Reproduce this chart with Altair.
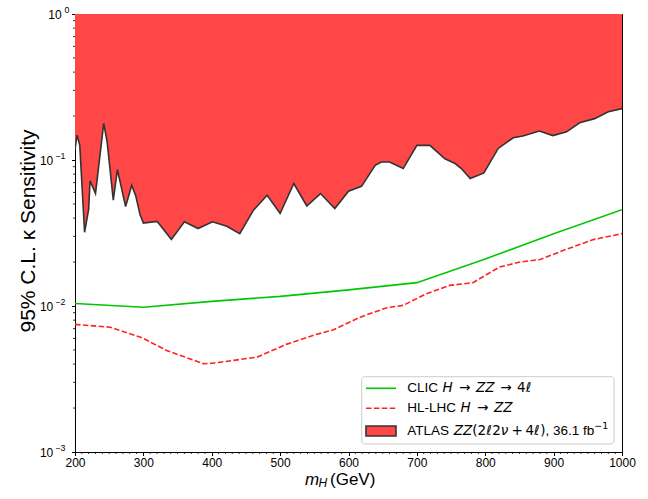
import altair as alt
import pandas as pd

# ATLAS ZZ exclusion boundary (mH in GeV, kappa sensitivity)
atlas_mass = [200, 203, 207, 214, 220, 222, 230, 242, 247, 256, 262, 274, 283, 289,
              295, 300, 320, 341, 360, 380, 401, 422, 441, 461, 481, 500, 520, 539,
              559, 580, 600, 619, 639, 648, 660, 680, 700, 719, 741, 756, 765, 778,
              798, 819, 841, 855, 879, 899, 919, 938, 960, 980, 1000]
atlas_kappa = [0.118, 0.148, 0.126, 0.032, 0.046, 0.072, 0.059, 0.178, 0.133, 0.053,
               0.086, 0.048, 0.067, 0.0565, 0.0425, 0.037, 0.038, 0.0286, 0.0377,
               0.0339, 0.0377, 0.0352, 0.0313, 0.0453, 0.0574, 0.043, 0.069, 0.0484,
               0.0589, 0.0465, 0.0611, 0.066, 0.092, 0.097, 0.097, 0.0874, 0.126,
               0.126, 0.102, 0.0946, 0.0874, 0.0746, 0.0816, 0.120, 0.142, 0.146,
               0.158, 0.147, 0.156, 0.180, 0.192, 0.214, 0.225]

# CLIC H -> ZZ -> 4l projection
clic_mass = [200, 300, 400, 500, 600, 700, 800, 900, 1000]
clic_kappa = [0.0104, 0.0098, 0.01076, 0.01164, 0.0129, 0.01445, 0.021, 0.0313, 0.0457]

# HL-LHC H -> ZZ projection
hllhc_mass = [200, 251, 298, 334, 388, 400, 466, 509, 548, 578, 617, 656, 680, 714,
              748, 782, 821, 851, 880, 919, 958, 1000]
hllhc_kappa = [0.00748, 0.00716, 0.00606, 0.00496, 0.00402, 0.00405, 0.00446, 0.00546,
               0.00629, 0.00687, 0.00839, 0.00973, 0.0101, 0.01214, 0.01384, 0.01445,
               0.0185, 0.0200, 0.0208, 0.0245, 0.0285, 0.0313]

# Axis ticks and decade labels
x_major = [200, 300, 400, 500, 600, 700, 800, 900, 1000]
y_major = [0.001, 0.01, 0.1, 1.0]
y_exponents = ["−3", "−2", "−1", "0"]
x_minor = [v for v in range(200, 1001, 10) if v % 100 != 0]
y_minor = [m * 10.0 ** e for e in (-3, -2, -1) for m in range(2, 10)]

FONT = "Liberation Sans"
MATH = "DejaVu Sans"
RED_FILL = "#ff4747"
EDGE = "#333333"
GREEN = "#00c800"
RED_LINE = "#ff2222"
LEG_SIZE = 13.5

W, H = 547, 438

xscale = alt.Scale(domain=[200, 1000], nice=False, zero=False)
yscale = alt.Scale(type="log", domain=[0.001, 1], nice=False)

xaxis = alt.Axis(values=x_major, title=None, tickSize=3.5, labelPadding=2, format="d",
                 labelFlush=False, grid=False)
yaxis = alt.Axis(values=y_major, title=None, tickSize=3.5, labels=False, grid=False)

atlas_df = pd.DataFrame({"mass": atlas_mass, "kappa": atlas_kappa})
clic_df = pd.DataFrame({"mass": clic_mass, "kappa": clic_kappa})
hllhc_df = pd.DataFrame({"mass": hllhc_mass, "kappa": hllhc_kappa})

X = alt.X("mass:Q", scale=xscale, axis=xaxis)
Y = alt.Y("kappa:Q", scale=yscale, axis=yaxis)

atlas_area = alt.Chart(atlas_df).mark_area(color=RED_FILL, opacity=1, clip=True).encode(
    x=X, y=Y, y2=alt.datum(1.0))
atlas_edge = alt.Chart(atlas_df).mark_line(color=EDGE, strokeWidth=1.6, clip=True).encode(
    x=X, y=Y)
clic_line = alt.Chart(clic_df).mark_line(color=GREEN, strokeWidth=1.6, clip=True).encode(
    x=X, y=Y)
hllhc_line = alt.Chart(hllhc_df).mark_line(color=RED_LINE, strokeWidth=1.6,
                                           strokeDash=[5.5, 2.4], clip=True).encode(x=X, y=Y)

# minor ticks, drawn outward from the frame
xminor = alt.Chart(pd.DataFrame({"mass": x_minor})).mark_rule(
    color="black", strokeWidth=0.8).encode(
    x=alt.X("mass:Q", scale=xscale, axis=xaxis), y=alt.value(H), y2=alt.value(H + 2))
yminor = alt.Chart(pd.DataFrame({"kappa": y_minor})).mark_rule(
    color="black", strokeWidth=0.8).encode(
    y=alt.Y("kappa:Q", scale=yscale, axis=yaxis), x=alt.value(-2), x2=alt.value(0))

# decade labels "10^n" on the y axis
ylab_df = pd.DataFrame({"kappa": y_major, "exp": y_exponents})
YL = alt.Y("kappa:Q", scale=yscale, axis=yaxis)


def decade_labels(cond, base_x, exp_x):
    src = alt.Chart(ylab_df).transform_filter(cond)
    tens = src.mark_text(text="10", font=FONT, fontSize=12, align="right",
                         baseline="middle", dy=0.5, color="black").encode(
        y=YL, x=alt.value(base_x))
    exps = src.mark_text(font=FONT, fontSize=8.8, align="right", baseline="middle",
                         dy=-3.8, color="black").encode(
        y=YL, x=alt.value(exp_x), text="exp:N")
    return [tens, exps]


ylabels = (decade_labels("datum.kappa >= 0.5", -13.3, -5.7)
           + decade_labels("datum.kappa < 0.5", -21.7, -9.6))

# legend box and keys
base = alt.Chart(pd.DataFrame({"k": [0]}))
legend_box = base.mark_rect(fill="white", fillOpacity=0.85, stroke="#cccccc",
                            strokeWidth=1, cornerRadius=3).encode(
    x=alt.value(286.7), x2=alt.value(539), y=alt.value(362.7), y2=alt.value(430))
leg_green = base.mark_rule(color=GREEN, strokeWidth=1.6).encode(
    x=alt.value(291), x2=alt.value(321), y=alt.value(374.3))
leg_red = base.mark_rule(color=RED_LINE, strokeWidth=1.6, strokeDash=[5.5, 2.4]).encode(
    x=alt.value(291), x2=alt.value(321), y=alt.value(394.3))
leg_patch = base.mark_rect(fill=RED_FILL, stroke=EDGE, strokeWidth=1.6).encode(
    x=alt.value(291), x2=alt.value(321), y=alt.value(412), y2=alt.value(422))

# advance widths (em) used to lay out legend labels that mix text and math glyphs
TEXT_EM = {"A": 0.667, "T": 0.611, "L": 0.556, "S": 0.667, "C": 0.722, "I": 0.278,
           "H": 0.722, "-": 0.333, " ": 0.278, ",": 0.278, ".": 0.278, "3": 0.556,
           "6": 0.556, "1": 0.556, "f": 0.278, "b": 0.556}
MATH_EM = {"H": 0.752, "Z": 0.685, "→": 0.838, "2": 0.636, "4": 0.636, "ℓ": 0.45,
           "ν": 0.592, "+": 0.838, "(": 0.390, ")": 0.390, "−": 0.838, "1": 0.636}


def run_width(text, kind):
    if kind == "t":
        return sum(TEXT_EM[c] for c in text) * LEG_SIZE
    if kind == "s":
        return sum(MATH_EM[c] for c in text) * LEG_SIZE * 0.7
    return sum(MATH_EM[c] for c in text) * LEG_SIZE


def legend_label(runs, x0, ypos):
    """runs: (text, kind, side padding in em); kind t=text, m=math upright,
    i=math italic, s=math superscript."""
    marks = []
    x = x0
    for text, kind, pad in runs:
        x += pad * LEG_SIZE
        kw = dict(text=text, font=FONT, fontSize=LEG_SIZE, align="left",
                  baseline="middle", color="black")
        if kind in ("m", "i", "s"):
            kw["font"] = MATH
        if kind == "i":
            kw["fontStyle"] = "italic"
        if kind == "s":
            kw["fontSize"] = LEG_SIZE * 0.7
            kw["dy"] = -4.8
        marks.append(base.mark_text(**kw).encode(x=alt.value(x), y=alt.value(ypos)))
        x += run_width(text, kind) + pad * LEG_SIZE
    return marks


ARROW_PAD = 0.42
PLUS_PAD = 0.2
legend_text = (
    legend_label([("CLIC ", "t", 0), ("H", "i", 0.05), ("→", "m", ARROW_PAD),
                  ("ZZ", "i", 0), ("→", "m", ARROW_PAD), ("4", "m", 0),
                  ("ℓ", "i", 0)], 332.3, 374.3)
    + legend_label([("HL-LHC ", "t", 0), ("H", "i", 0.05), ("→", "m", ARROW_PAD),
                    ("ZZ", "i", 0)], 332.3, 394.3)
    + legend_label([("ATLAS ", "t", 0), ("ZZ", "i", 0), ("(", "m", 0), ("2", "m", 0),
                    ("ℓ", "i", 0), ("2", "m", 0), ("ν", "i", 0), ("+", "m", PLUS_PAD),
                    ("4", "m", 0), ("ℓ", "i", 0), (")", "m", 0), (", 36.1 fb", "t", 0),
                    ("−1", "s", 0)], 332.3, 417.0)
)

# axis titles
ytitle = base.mark_text(text="95% C.L. κ Sensitivity", font=FONT, fontSize=21, angle=270,
                        align="center", baseline="middle", color="black").encode(
    x=alt.value(-46.5), y=alt.value(217))
xt_m = base.mark_text(text="m", font=FONT, fontSize=17, fontStyle="italic", align="left",
                      baseline="alphabetic", color="black").encode(
    x=alt.value(230), y=alt.value(470.5))
xt_h = base.mark_text(text="H", font=FONT, fontSize=12, fontStyle="italic", align="left",
                      baseline="alphabetic", color="black").encode(
    x=alt.value(243.5), y=alt.value(473))
xt_gev = base.mark_text(text="(GeV)", font=FONT, fontSize=17, align="left",
                        baseline="alphabetic", color="black").encode(
    x=alt.value(255), y=alt.value(470.5))

chart = alt.layer(
    atlas_area, atlas_edge, clic_line, hllhc_line, xminor, yminor, *ylabels,
    legend_box, leg_green, leg_red, leg_patch, *legend_text,
    ytitle, xt_m, xt_h, xt_gev,
).properties(
    width=W, height=H,
    padding={"left": 75, "top": 14, "right": 26, "bottom": 47},
    autosize=alt.AutoSizeParams(type="none"),
).configure_axis(
    labelFont=FONT, labelFontSize=12, labelColor="black",
    domainColor="black", tickColor="black", domainWidth=1,
).configure_view(stroke="black", strokeWidth=1)

chart.save("out.html", embed_options={"renderer": "svg", "actions": False})
